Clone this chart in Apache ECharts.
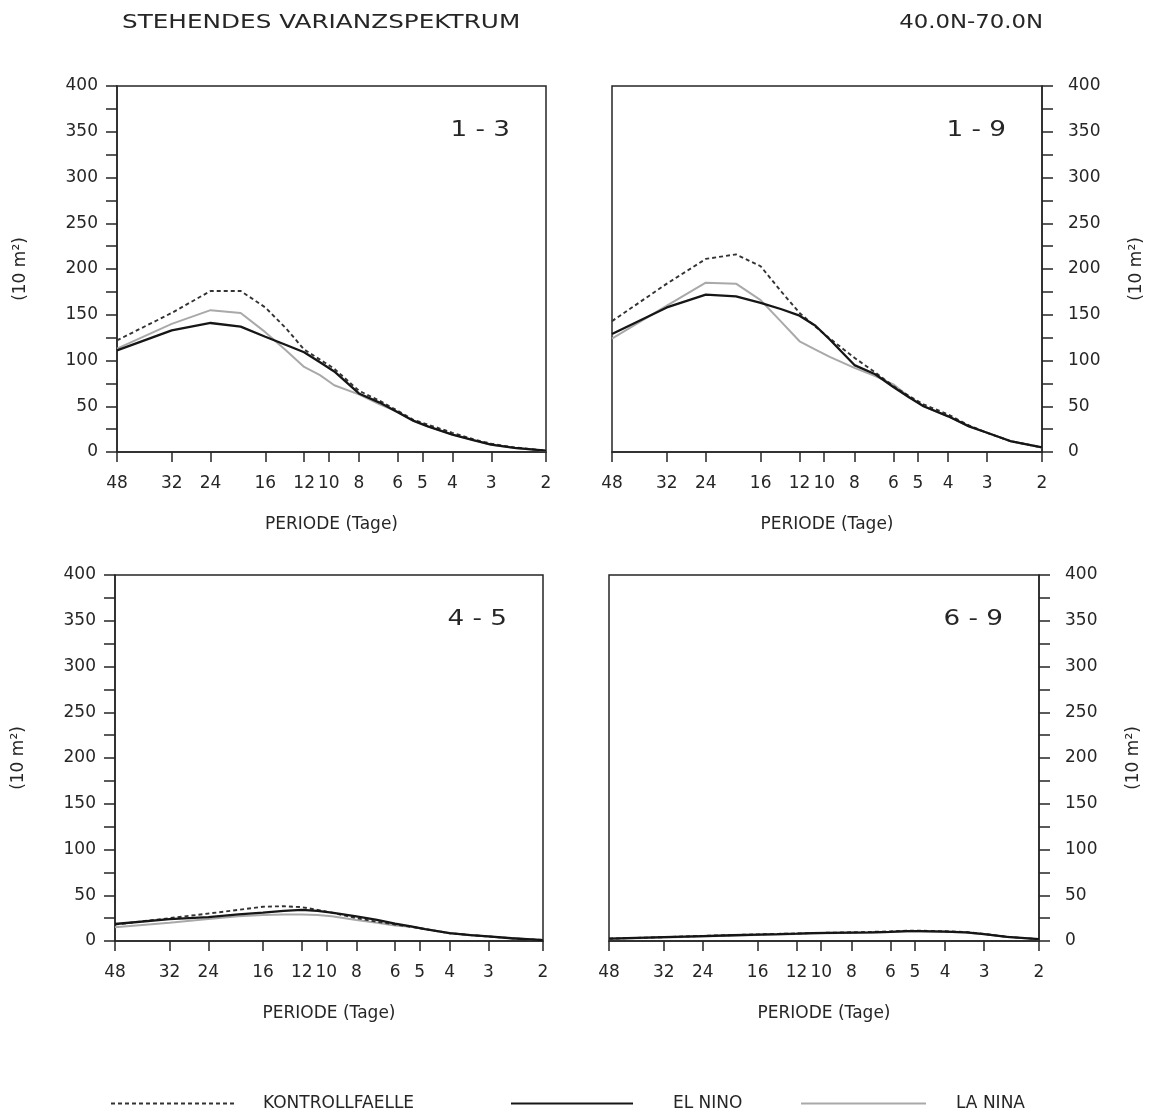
<!DOCTYPE html>
<html>
<head>
<meta charset="utf-8">
<title>Stehendes Varianzspektrum 40.0N-70.0N</title>
<script src="https://cdn.jsdelivr.net/npm/echarts@6/dist/echarts.min.js"></script>
<style>
  html, body { margin: 0; padding: 0; background: #fff; }
  #chart { width: 1153px; height: 1112px; }
</style>
</head>
<body>
<div id="chart"></div>
<script>
// Spectral periods (days) at which the variance is given
const periods = [48, 32, 24, 19.2, 16, 13.71, 12, 10.67, 9.6, 8, 6.86, 6, 5.33, 4.8, 4, 3.43, 3, 2.53, 2];
// Period tick labels on the horizontal axis
const periodTicks = [48, 32, 24, 16, 12, 10, 8, 6, 5, 4, 3, 2];

// Wavenumber band 1-3
const kontrolle13 = [122, 152, 176, 176, 158, 135, 112, 101, 91, 67, 56, 45, 35, 30, 21, 14, 9, 5, 1.5];
const elNino13    = [111, 133, 141, 137, 126, 117, 109, 98, 88, 64, 54, 43.5, 34, 28, 19, 13, 8, 4.5, 1.4];
const laNina13    = [113, 140, 155, 152, 131, 111, 93, 84, 73, 63, 52, 44, 34, 28, 19, 13, 8, 4.5, 1.4];

// Wavenumber band 1-9
const kontrolle19 = [143, 184, 211, 216, 203, 175, 152, 137, 124, 103, 87, 72, 61, 52, 41, 29, 21, 12, 5];
const elNino19    = [129, 158, 172, 170, 163, 156, 149, 138, 123, 95, 85, 71, 59.5, 50, 39, 28, 21, 12, 5];
const laNina19    = [124, 160, 185, 184, 166, 142, 121, 112, 104, 92, 83, 74, 60, 50, 39, 28, 21, 12, 5];

// Wavenumber band 4-5
const kontrolle45 = [18, 25, 30, 34, 37.5, 38, 37, 34, 31, 25, 21, 18, 15.5, 13, 8.5, 6.5, 5, 3, 1];
const elNino45    = [18.6, 24, 26, 29, 31, 33, 34, 33, 31, 27, 23, 19, 16, 13, 8.5, 6.5, 5, 3, 1];
const laNina45    = [15, 20, 24, 27, 28.5, 29, 29, 28.5, 27, 23, 20, 17, 15.5, 13, 8.5, 6.5, 5, 3, 1];

// Wavenumber band 6-9
const kontrolle69 = [2.6, 4.2, 5.6, 6.5, 7.2, 7.8, 8.2, 8.7, 9, 9.5, 10, 10.5, 11.2, 11.3, 10.6, 9.8, 7.8, 4.6, 2];
const elNino69    = [2.6, 4.2, 5.4, 6.3, 7, 7.5, 8, 8.5, 8.8, 9.2, 9.5, 10, 10.7, 10.8, 10.3, 9.5, 7.5, 4.5, 2];
const laNina69    = [2.2, 3.8, 5, 6, 6.6, 7.2, 7.7, 8.2, 8.5, 9, 9.3, 9.8, 10.4, 10.5, 10, 9.2, 7.3, 4.4, 2];

const panelLabels = ['1 - 3', '1 - 9', '4 - 5', '6 - 9'];
const seriesNames = ['KONTROLLFAELLE', 'EL NINO', 'LA NINA'];

const panels = [
  { label: panelLabels[0], side: 'left',  box: { left: 117, top: 86,  width: 429, height: 366 }, values: [kontrolle13, elNino13, laNina13] },
  { label: panelLabels[1], side: 'right', box: { left: 612, top: 86,  width: 430, height: 366 }, values: [kontrolle19, elNino19, laNina19] },
  { label: panelLabels[2], side: 'left',  box: { left: 115, top: 575, width: 428, height: 366 }, values: [kontrolle45, elNino45, laNina45] },
  { label: panelLabels[3], side: 'right', box: { left: 609, top: 575, width: 430, height: 366 }, values: [kontrolle69, elNino69, laNina69] }
];

const ink = '#262626';
const font = 'DejaVu Sans';

// The period axis is logarithmic: positions are log10(period) on a value scale
const toLog = p => Math.log10(p);
const pairs = vals => periods.map((p, i) => [toLog(p), vals[i]]);
const tickLogs = periodTicks.map(toLog);

const lineStyles = {
  'KONTROLLFAELLE': { color: '#333333', width: 1.9, type: [4, 3] },
  'EL NINO':        { color: '#161616', width: 2.3, type: 'solid' },
  'LA NINA':        { color: '#a9a9a9', width: 2.0, type: 'solid' }
};
// draw order: grey underneath, black on top
const drawOrder = [2, 0, 1];

const grid = [], xAxis = [], yAxis = [], series = [], graphic = [];

panels.forEach((pn, gi) => {
  grid.push(Object.assign({
    show: true, borderColor: ink, borderWidth: 1.5, backgroundColor: '#fff', containLabel: false
  }, pn.box));

  xAxis.push({
    gridIndex: gi,
    type: 'value',
    min: toLog(2),
    max: toLog(48),
    inverse: true,
    name: 'PERIODE (Tage)',
    nameLocation: 'middle',
    nameGap: 64,
    nameTextStyle: { fontFamily: font, fontSize: 17, color: ink },
    axisLine: { show: true, onZero: false, lineStyle: { color: ink, width: 1.5 } },
    axisTick: { show: true, inside: false, length: 10, customValues: tickLogs, lineStyle: { color: ink, width: 1.5 } },
    axisLabel: {
      customValues: tickLogs,
      margin: 23,
      fontFamily: font, fontSize: 17, color: ink,
      formatter: v => String(Math.round(Math.pow(10, v)))
    },
    splitLine: { show: false }
  });

  const isLeft = pn.side === 'left';
  yAxis.push({
    gridIndex: gi,
    type: 'value',
    position: pn.side,
    min: 0,
    max: 400,
    interval: 50,
    name: '(10 m\u00B2)',
    nameLocation: 'middle',
    nameRotate: 90,
    nameGap: isLeft ? 88 : 86,
    nameTextStyle: { fontFamily: font, fontSize: 17, color: ink },
    axisLine: { show: true, lineStyle: { color: ink, width: 1.5 } },
    axisTick: { show: true, inside: false, length: 11, lineStyle: { color: ink, width: 1.5 } },
    minorTick: { show: true, splitNumber: 2, length: 11, lineStyle: { color: ink, width: 1.5 } },
    axisLabel: { margin: isLeft ? 19 : 26, fontFamily: font, fontSize: 17, color: ink },
    splitLine: { show: false },
    minorSplitLine: { show: false }
  });

  drawOrder.forEach(si => {
    const name = seriesNames[si];
    series.push({
      name: name,
      type: 'line',
      xAxisIndex: gi,
      yAxisIndex: gi,
      data: pairs(pn.values[si]),
      symbol: 'none',
      smooth: false,
      lineStyle: lineStyles[name],
      itemStyle: { color: lineStyles[name].color },
      emphasis: { disabled: true }
    });
  });

  graphic.push({
    type: 'text',
    x: pn.box.left + pn.box.width - 36,
    y: pn.box.top + 45,
    style: {
      text: pn.label,
      fontFamily: font, fontSize: 21, fill: ink,
      textAlign: 'right', textVerticalAlign: 'middle'
    },
    scaleX: 1.25,
    z: 10
  });
});

graphic.push({
  type: 'text', x: 122, y: 23, scaleX: 1.3,
  style: { text: 'STEHENDES VARIANZSPEKTRUM', fontFamily: font, fontSize: 19, fill: ink, textAlign: 'left', textVerticalAlign: 'middle' }
});
graphic.push({
  type: 'text', x: 1043, y: 23, scaleX: 1.2,
  style: { text: '40.0N-70.0N', fontFamily: font, fontSize: 19, fill: ink, textAlign: 'right', textVerticalAlign: 'middle' }
});

// Legend entries show only the line sample, no marker
const legendText = { fontFamily: font, fontSize: 17, color: ink };
const legendBase = { top: 1095, padding: 0, itemHeight: 14, selectedMode: false, itemStyle: { opacity: 0, borderWidth: 0 } };
const legend = [
  Object.assign({ data: ['KONTROLLFAELLE'], left: 110, itemWidth: 125, textStyle: Object.assign({ padding: [0, 0, 0, 22] }, legendText) }, legendBase),
  Object.assign({ data: ['EL NINO'],        left: 510, itemWidth: 122, textStyle: Object.assign({ padding: [0, 0, 0, 35] }, legendText) }, legendBase),
  Object.assign({ data: ['LA NINA'],        left: 800, itemWidth: 125, textStyle: Object.assign({ padding: [0, 0, 0, 25] }, legendText) }, legendBase)
];

const chart = echarts.init(document.getElementById('chart'), null, { renderer: 'canvas' });
chart.setOption({
  animation: false,
  backgroundColor: '#fff',
  grid, xAxis, yAxis, series, legend, graphic
});
</script>
</body>
</html>
